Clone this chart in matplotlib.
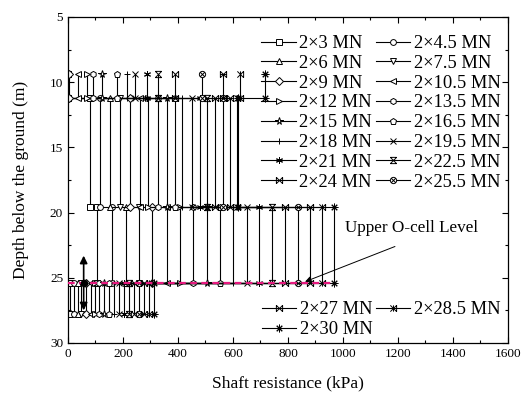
import numpy as np
import matplotlib.pyplot as plt
from matplotlib.path import Path
from matplotlib.ticker import MultipleLocator

plt.rcParams['font.family'] = ['Liberation Serif', 'DejaVu Serif']

# layer boundary depths (m)
depths = [9.4, 11.2, 19.6, 25.4, 27.8]

loads = ['2×3 MN', '2×4.5 MN', '2×6 MN', '2×7.5 MN', '2×9 MN', '2×10.5 MN',
         '2×12 MN', '2×13.5 MN', '2×15 MN', '2×16.5 MN', '2×18 MN', '2×19.5 MN',
         '2×21 MN', '2×22.5 MN', '2×24 MN', '2×25.5 MN', '2×27 MN', '2×28.5 MN',
         '2×30 MN']

# shaft resistance (kPa) of each layer for each load step
q_top = [0, 0, 0, 0, 5, 36, 69, 91, 124, 178, 215, 244, 287, 327, 389, 487, 564, 625, 716]
q_mid = [80, 116, 153, 189, 225, 262, 291, 327, 360, 389, 415, 451, 480, 505, 535, 564, 589, 615, 620]
q_low = [105, 160, 211, 258, 305, 360, 407, 455, 505, 553, 600, 651, 695, 742, 789, 836, 880, 924, 967]
q_base = [8, 22, 35, 48, 65, 82, 98, 113, 131, 149, 167, 185, 204, 222, 240, 258, 276, 295, 313]

ocell_depth = 25.4


def seg_marker(segs, circle=False):
    verts, codes = [], []
    for (a, b) in segs:
        verts += [a, b]
        codes += [Path.MOVETO, Path.LINETO]
    if circle:
        c = Path.unit_circle()
        verts += list(c.vertices)
        codes += list(c.codes)
    return Path(verts, codes)


X = [((-1, -1), (1, 1)), ((-1, 1), (1, -1))]
hourglass = seg_marker(X + [((-1, 1), (1, 1)), ((-1, -1), (1, -1))])
bowtie = seg_marker(X + [((-1, 1), (-1, -1)), ((1, 1), (1, -1))])
otimes = seg_marker([((-0.7, -0.7), (0.7, 0.7)), ((-0.7, 0.7), (0.7, -0.7))], circle=True)
xbar = seg_marker(X + [((1, 1), (1, -1)), ((-1, 1), (-1, -1)), ((-1, 0), (1, 0))])
xvert = seg_marker(X + [((0, 1), (0, -1)), ((1, 1), (1, -1))])

markers = ['s', 'o', '^', 'v', 'D', '<', '>', 'h', '*', 'p', '+', 'x',
           (6, 2, 0), hourglass, bowtie, otimes, xbar, xvert, (8, 2, 0)]
msizes = [4.2, 4.2, 4.5, 4.5, 3.8, 4.5, 4.5, 4.4, 5.5, 4.6, 5, 4.5,
          5, 4.5, 4.5, 4.5, 4.5, 4.5, 5.5]

fig = plt.figure(figsize=(5.25, 3.98), dpi=100)
ax = fig.add_axes([0.1295, 0.1382, 0.8381, 0.8191])

handles = []
for i in range(len(loads)):
    xs = [q_top[i], q_top[i], q_mid[i], q_mid[i], q_low[i], q_low[i], q_base[i], q_base[i]]
    ys = [depths[0], depths[1], depths[1], depths[2], depths[2], depths[3], depths[3], depths[4]]
    h, = ax.plot(xs, ys, color='k', lw=0.8, marker=markers[i], ms=msizes[i],
                 mfc='white', mec='k', mew=0.7, label=loads[i])
    handles.append(h)

# upper O-cell level
ax.plot([0, max(q_low)], [ocell_depth, ocell_depth], color='#e6197f', lw=1.6,
        ls=(0, (3, 2)), zorder=5)

# double arrow marking the O-cell
ax.plot([57], [ocell_depth], 'o', color='k', ms=4.5, zorder=6)
for tip in (23.3, 27.5):
    ax.annotate('', xy=(57, tip), xytext=(57, ocell_depth),
                arrowprops=dict(arrowstyle='-|>', color='k', lw=1.2, shrinkA=0, shrinkB=0,
                                mutation_scale=11), zorder=6)

ax.text(1007, 21.2, 'Upper O-cell Level', fontsize=12.3, ha='left', va='center')
ax.annotate('', xy=(862, 25.3), xytext=(1189, 22.6),
            arrowprops=dict(arrowstyle='-|>', color='k', lw=0.7, shrinkA=0, shrinkB=0,
                            mutation_scale=9), zorder=6)

ax.set_xlim(0, 1600)
ax.set_ylim(30, 5)
ax.xaxis.set_major_locator(MultipleLocator(200))
ax.xaxis.set_minor_locator(MultipleLocator(100))
ax.yaxis.set_major_locator(MultipleLocator(5))
ax.yaxis.set_minor_locator(MultipleLocator(2.5))
ax.tick_params(which='both', direction='in', top=True, right=True, labelsize=9.5, width=0.8)
ax.tick_params(which='major', length=4)
ax.tick_params(which='minor', length=2.5)
for s in ax.spines.values():
    s.set_linewidth(0.9)

ax.set_xlabel('Shaft resistance (kPa)', fontsize=12.5, labelpad=11)
ax.set_ylabel('Depth below the ground (m)', fontsize=12.5, labelpad=15)

leg_kw = dict(ncol=2, frameon=False, fontsize=13.3, handlelength=1.85,
              handletextpad=0.2, columnspacing=0.2, labelspacing=0.15,
              borderaxespad=0.2, borderpad=0.2)

# first legend: 16 entries in two columns, filled row by row
first = handles[:16]
order = first[0::2] + first[1::2]
leg1 = ax.legend(order, [h.get_label() for h in order], loc='upper right',
                 bbox_to_anchor=(1.0, 0.967), **leg_kw)
ax.add_artist(leg1)
last = [handles[16], handles[18], handles[17]]
ax.legend(last, [h.get_label() for h in last], loc='lower right',
          bbox_to_anchor=(1.0, -0.008), **leg_kw)

fig.savefig('out.png', dpi=100)
